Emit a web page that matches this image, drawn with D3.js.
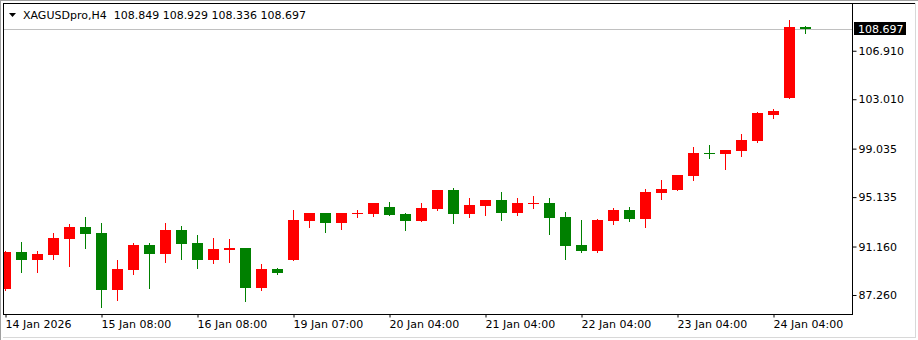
<!DOCTYPE html>
<html>
<head>
<meta charset="utf-8">
<script src="https://cdn.jsdelivr.net/npm/d3@7"></script>
<style>
html, body { margin: 0; padding: 0; background: #fff; }
svg { display: block; font-family: "DejaVu Sans", sans-serif; font-size: 11px; }
</style>
</head>
<body>
<svg id="chart" width="918" height="340"></svg>
<script>
// XAGUSD H4 candles
const symbol = "XAGUSDpro,H4";
const opens  = [87.74, 90.72, 90.08, 90.48, 91.77, 92.73, 92.25, 87.66, 89.27, 91.28,
                90.56, 92.49, 91.44, 90.08, 90.88, 91.04, 87.82, 89.35, 90.08, 93.21,
                93.86, 93.05, 93.80, 93.78, 94.34, 93.78, 93.21, 94.18, 95.71, 93.78,
                94.42, 94.90, 93.86, 94.64, 94.66, 93.54, 91.28, 90.80, 93.21, 94.10,
                93.37, 95.47, 95.71, 96.83, 98.70, 98.60, 98.85, 99.65, 101.77, 103.11, 108.849];
const highs  = [90.80, 91.52, 90.80, 92.25, 92.97, 93.54, 93.05, 90.08, 91.44, 91.44,
                93.05, 92.81, 92.09, 91.85, 91.77, 91.06, 89.75, 89.43, 94.10, 93.86,
                93.86, 93.86, 94.10, 94.66, 94.74, 93.86, 94.66, 95.71, 95.87, 95.06,
                94.90, 95.55, 95.06, 95.22, 95.06, 93.94, 93.29, 93.37, 94.26, 94.34,
                95.79, 96.51, 96.91, 99.17, 99.33, 98.93, 100.21, 101.98, 102.25, 109.38, 108.929];
const lows   = [87.66, 89.11, 89.11, 90.16, 89.59, 91.04, 86.29, 86.86, 88.95, 87.82,
                89.92, 90.16, 89.43, 89.83, 89.92, 86.78, 87.66, 88.95, 90.08, 92.73,
                92.33, 92.57, 93.54, 93.62, 93.70, 92.49, 93.21, 94.10, 93.05, 93.54,
                93.70, 93.29, 93.70, 94.26, 92.17, 90.16, 90.72, 90.72, 92.97, 93.21,
                92.73, 94.98, 95.71, 96.51, 98.28, 97.40, 98.44, 99.57, 101.52, 103.11, 108.336];
const closes = [90.72, 90.08, 90.56, 91.85, 92.73, 92.17, 87.66, 89.35, 91.28, 90.56,
                92.49, 91.36, 90.08, 90.96, 91.04, 87.82, 89.35, 89.03, 93.29, 93.86,
                93.05, 93.86, 93.82, 94.66, 93.70, 93.21, 94.26, 95.71, 93.78, 94.50,
                94.90, 93.86, 94.66, 94.66, 93.46, 91.20, 90.80, 93.29, 94.10, 93.37,
                95.55, 95.79, 96.91, 98.68, 98.68, 98.93, 99.73, 101.90, 102.06, 108.849, 108.697];

const priceTicks = [87.260, 91.160, 95.135, 99.035, 103.010, 106.910];
const timeTickIdx = [0, 6, 12, 18, 24, 30, 36, 42, 48];
const timeTickLabels = ["14 Jan 2026", "15 Jan 08:00", "16 Jan 08:00", "19 Jan 07:00",
                        "20 Jan 04:00", "21 Jan 04:00", "22 Jan 04:00", "23 Jan 04:00", "24 Jan 04:00"];

const W = 918, H = 340;
const plot = {left: 4, top: 4, right: 852, bottom: 314};
const bullColor = "#ff0000", bearColor = "#008000";

const candles = opens.map((o, i) => ({i: i, o: o, h: highs[i], l: lows[i], c: closes[i]}));
const last = candles[candles.length - 1];

const x = d3.scaleLinear().domain([0, candles.length - 1]).range([5.5, 805.5]);
const y = d3.scaleLinear().domain([85.731, 110.671]).range([plot.bottom, plot.top]);

const svg = d3.select("#chart");

svg.append("rect").attr("width", W).attr("height", H).attr("fill", "#fff");

// window border
svg.append("line").attr("x1", 0).attr("x2", W).attr("y1", 0.5).attr("y2", 0.5).attr("stroke", "#a0a0a0");
svg.append("line").attr("x1", 0.5).attr("x2", 0.5).attr("y1", 0).attr("y2", H).attr("stroke", "#a0a0a0");
svg.append("line").attr("x1", 3).attr("x2", 916).attr("y1", 3.5).attr("y2", 3.5).attr("stroke", "#000");
svg.append("line").attr("x1", 915.5).attr("x2", 915.5).attr("y1", 3).attr("y2", 338).attr("stroke", "#d8d8d8");
svg.append("line").attr("x1", 3).attr("x2", 916).attr("y1", 337.5).attr("y2", 337.5).attr("stroke", "#d8d8d8");

svg.append("clipPath").attr("id", "plotClip")
  .append("rect")
  .attr("x", plot.left).attr("y", plot.top)
  .attr("width", plot.right - plot.left).attr("height", plot.bottom - plot.top);

// current price line
const lastY = Math.round(y(last.c)) + 0.5;
svg.append("line")
  .attr("x1", plot.left).attr("x2", plot.right)
  .attr("y1", lastY).attr("y2", lastY)
  .attr("stroke", "#c0c0c0");

const g = svg.append("g").attr("clip-path", "url(#plotClip)");

const colorOf = d => d.c >= d.o ? bullColor : bearColor;

g.selectAll("line.wick")
  .data(candles)
  .enter()
  .append("line")
  .attr("class", "wick")
  .attr("x1", d => x(d.i)).attr("x2", d => x(d.i))
  .attr("y1", d => Math.round(y(d.h)))
  .attr("y2", d => Math.round(y(d.l)) + 1)
  .attr("stroke", colorOf);

g.selectAll("rect.body")
  .data(candles)
  .enter()
  .append("rect")
  .attr("class", "body")
  .attr("x", d => x(d.i) - 5.5)
  .attr("width", 11)
  .attr("y", d => Math.round(y(Math.max(d.o, d.c))))
  .attr("height", d => Math.max(1, Math.round(y(Math.min(d.o, d.c))) - Math.round(y(Math.max(d.o, d.c)))))
  .attr("fill", colorOf);

// plot frame
svg.append("rect")
  .attr("x", plot.left - 0.5).attr("y", plot.top - 0.5)
  .attr("width", plot.right - plot.left + 1).attr("height", plot.bottom - plot.top + 1)
  .attr("fill", "none").attr("stroke", "#000");

// price axis
const yAxis = svg.append("g")
  .attr("transform", "translate(" + (plot.right + 0.5) + ",0)")
  .call(d3.axisRight(y).tickValues(priceTicks).tickFormat(d3.format(".3f")).tickSize(4).tickPadding(2).tickSizeOuter(0));
yAxis.select(".domain").remove();
yAxis.selectAll("text").attr("font-family", "DejaVu Sans").attr("font-size", 11).attr("fill", "#000");

// time axis
const xAxis = svg.append("g")
  .attr("transform", "translate(0," + (plot.bottom + 0.5) + ")")
  .call(d3.axisBottom(x).tickValues(timeTickIdx).tickFormat((d, k) => timeTickLabels[k]).tickSize(3).tickSizeOuter(0));
xAxis.select(".domain").remove();
xAxis.selectAll("text")
  .attr("text-anchor", "start")
  .attr("x", -0.5)
  .attr("y", 6)
  .attr("font-family", "DejaVu Sans").attr("font-size", 11).attr("fill", "#000");

// last price tag
const tagG = svg.append("g");
tagG.append("rect")
  .attr("x", 854).attr("y", Math.round(y(last.c)) - 7)
  .attr("width", 52).attr("height", 13)
  .attr("fill", "#000");
tagG.append("text")
  .attr("x", 858).attr("y", Math.round(y(last.c)) + 4)
  .attr("fill", "#fff")
  .text(d3.format(".3f")(last.c));

// header
svg.append("path")
  .attr("d", d3.line()([[9, 13], [16, 13], [12.5, 17]]) + "Z")
  .attr("fill", "#000");
svg.append("text")
  .attr("x", 23).attr("y", 19)
  .attr("fill", "#000")
  .attr("xml:space", "preserve")
  .style("white-space", "pre")
  .text(symbol + "  " + [last.o, last.h, last.l, last.c].map(d3.format(".3f")).join(" "));
</script>
</body>
</html>
